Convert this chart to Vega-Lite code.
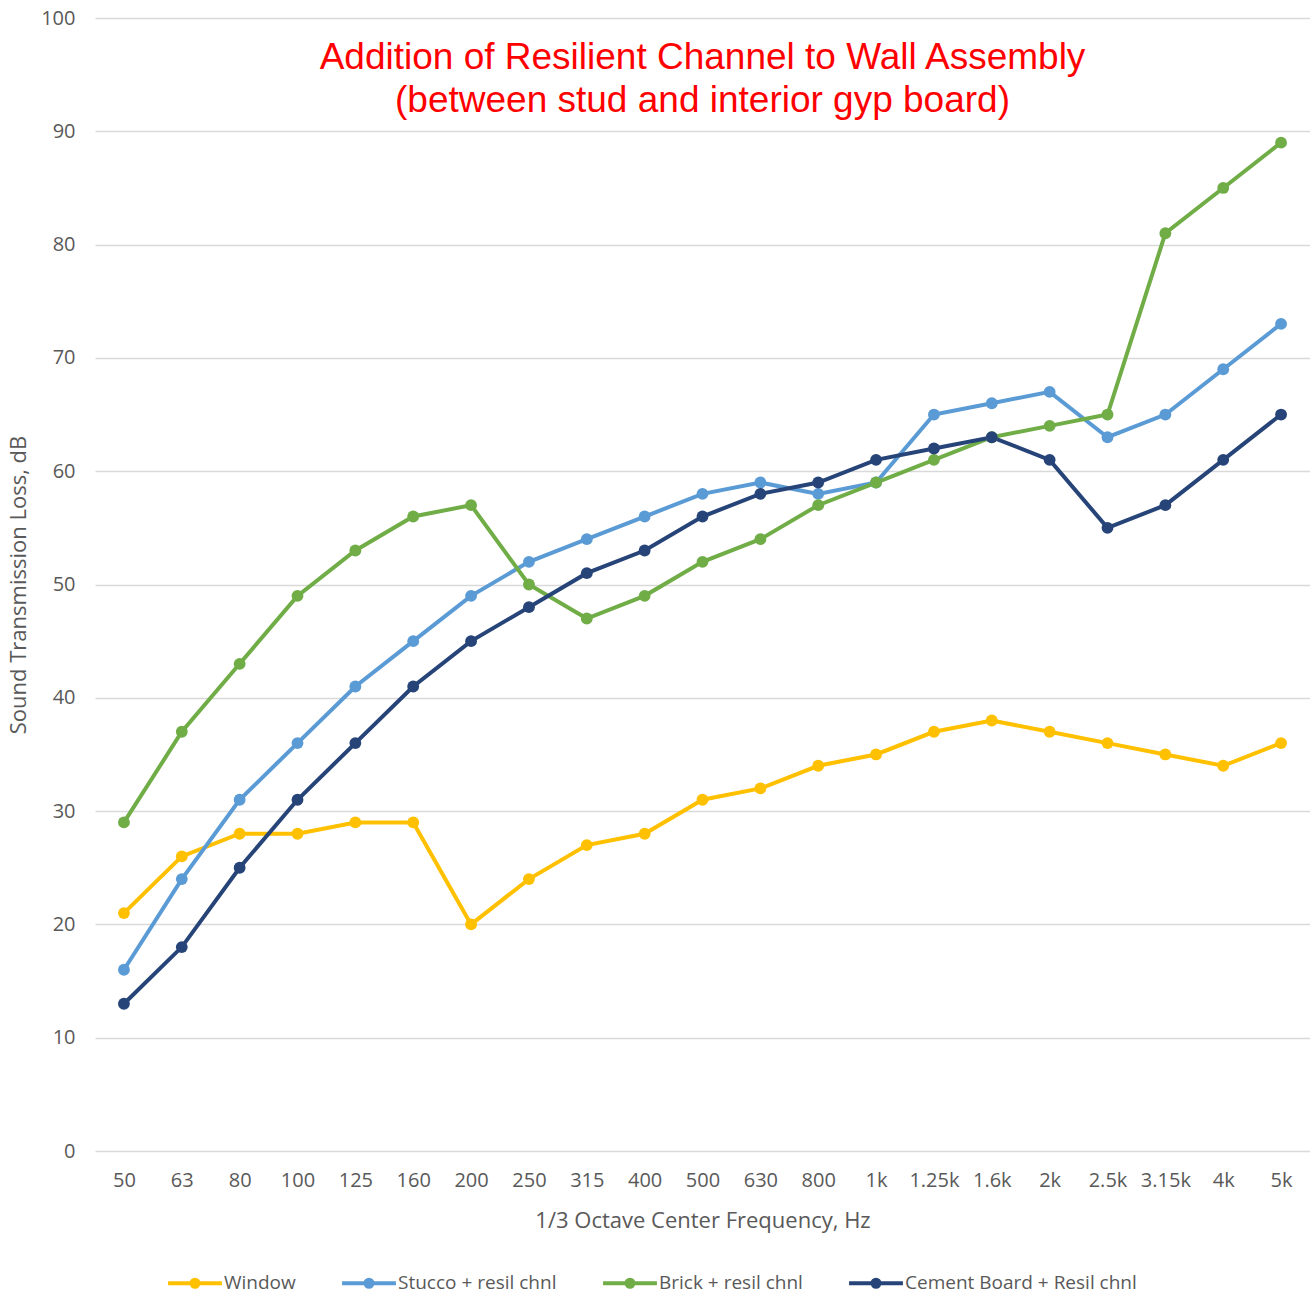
{
  "$schema": "https://vega.github.io/schema/vega-lite/v6.json",
  "autosize": "none",
  "width": 1215,
  "height": 1133,
  "padding": {"left": 95, "top": 18, "right": 0, "bottom": 144},
  "background": "white",
  "config": {
    "view": {"stroke": null},
    "font": "Open Sans"
  },
  "title": {
    "text": ["Addition of Resilient Channel to Wall Assembly", "(between stud and interior gyp board)"],
    "font": "Liberation Sans",
    "fontSize": 37,
    "fontWeight": "normal",
    "color": "#FF0000",
    "lineHeight": 43,
    "anchor": "middle",
    "orient": "top",
    "baseline": "top",
    "offset": 0,
    "dy": 112
  },
  "data": {
    "values": [
      {"freq": "50", "series": "Window", "tl": 21},
      {"freq": "63", "series": "Window", "tl": 26},
      {"freq": "80", "series": "Window", "tl": 28},
      {"freq": "100", "series": "Window", "tl": 28},
      {"freq": "125", "series": "Window", "tl": 29},
      {"freq": "160", "series": "Window", "tl": 29},
      {"freq": "200", "series": "Window", "tl": 20},
      {"freq": "250", "series": "Window", "tl": 24},
      {"freq": "315", "series": "Window", "tl": 27},
      {"freq": "400", "series": "Window", "tl": 28},
      {"freq": "500", "series": "Window", "tl": 31},
      {"freq": "630", "series": "Window", "tl": 32},
      {"freq": "800", "series": "Window", "tl": 34},
      {"freq": "1k", "series": "Window", "tl": 35},
      {"freq": "1.25k", "series": "Window", "tl": 37},
      {"freq": "1.6k", "series": "Window", "tl": 38},
      {"freq": "2k", "series": "Window", "tl": 37},
      {"freq": "2.5k", "series": "Window", "tl": 36},
      {"freq": "3.15k", "series": "Window", "tl": 35},
      {"freq": "4k", "series": "Window", "tl": 34},
      {"freq": "5k", "series": "Window", "tl": 36},
      {"freq": "50", "series": "Stucco + resil chnl", "tl": 16},
      {"freq": "63", "series": "Stucco + resil chnl", "tl": 24},
      {"freq": "80", "series": "Stucco + resil chnl", "tl": 31},
      {"freq": "100", "series": "Stucco + resil chnl", "tl": 36},
      {"freq": "125", "series": "Stucco + resil chnl", "tl": 41},
      {"freq": "160", "series": "Stucco + resil chnl", "tl": 45},
      {"freq": "200", "series": "Stucco + resil chnl", "tl": 49},
      {"freq": "250", "series": "Stucco + resil chnl", "tl": 52},
      {"freq": "315", "series": "Stucco + resil chnl", "tl": 54},
      {"freq": "400", "series": "Stucco + resil chnl", "tl": 56},
      {"freq": "500", "series": "Stucco + resil chnl", "tl": 58},
      {"freq": "630", "series": "Stucco + resil chnl", "tl": 59},
      {"freq": "800", "series": "Stucco + resil chnl", "tl": 58},
      {"freq": "1k", "series": "Stucco + resil chnl", "tl": 59},
      {"freq": "1.25k", "series": "Stucco + resil chnl", "tl": 65},
      {"freq": "1.6k", "series": "Stucco + resil chnl", "tl": 66},
      {"freq": "2k", "series": "Stucco + resil chnl", "tl": 67},
      {"freq": "2.5k", "series": "Stucco + resil chnl", "tl": 63},
      {"freq": "3.15k", "series": "Stucco + resil chnl", "tl": 65},
      {"freq": "4k", "series": "Stucco + resil chnl", "tl": 69},
      {"freq": "5k", "series": "Stucco + resil chnl", "tl": 73},
      {"freq": "50", "series": "Brick + resil chnl", "tl": 29},
      {"freq": "63", "series": "Brick + resil chnl", "tl": 37},
      {"freq": "80", "series": "Brick + resil chnl", "tl": 43},
      {"freq": "100", "series": "Brick + resil chnl", "tl": 49},
      {"freq": "125", "series": "Brick + resil chnl", "tl": 53},
      {"freq": "160", "series": "Brick + resil chnl", "tl": 56},
      {"freq": "200", "series": "Brick + resil chnl", "tl": 57},
      {"freq": "250", "series": "Brick + resil chnl", "tl": 50},
      {"freq": "315", "series": "Brick + resil chnl", "tl": 47},
      {"freq": "400", "series": "Brick + resil chnl", "tl": 49},
      {"freq": "500", "series": "Brick + resil chnl", "tl": 52},
      {"freq": "630", "series": "Brick + resil chnl", "tl": 54},
      {"freq": "800", "series": "Brick + resil chnl", "tl": 57},
      {"freq": "1k", "series": "Brick + resil chnl", "tl": 59},
      {"freq": "1.25k", "series": "Brick + resil chnl", "tl": 61},
      {"freq": "1.6k", "series": "Brick + resil chnl", "tl": 63},
      {"freq": "2k", "series": "Brick + resil chnl", "tl": 64},
      {"freq": "2.5k", "series": "Brick + resil chnl", "tl": 65},
      {"freq": "3.15k", "series": "Brick + resil chnl", "tl": 81},
      {"freq": "4k", "series": "Brick + resil chnl", "tl": 85},
      {"freq": "5k", "series": "Brick + resil chnl", "tl": 89},
      {"freq": "50", "series": "Cement Board + Resil chnl", "tl": 13},
      {"freq": "63", "series": "Cement Board + Resil chnl", "tl": 18},
      {"freq": "80", "series": "Cement Board + Resil chnl", "tl": 25},
      {"freq": "100", "series": "Cement Board + Resil chnl", "tl": 31},
      {"freq": "125", "series": "Cement Board + Resil chnl", "tl": 36},
      {"freq": "160", "series": "Cement Board + Resil chnl", "tl": 41},
      {"freq": "200", "series": "Cement Board + Resil chnl", "tl": 45},
      {"freq": "250", "series": "Cement Board + Resil chnl", "tl": 48},
      {"freq": "315", "series": "Cement Board + Resil chnl", "tl": 51},
      {"freq": "400", "series": "Cement Board + Resil chnl", "tl": 53},
      {"freq": "500", "series": "Cement Board + Resil chnl", "tl": 56},
      {"freq": "630", "series": "Cement Board + Resil chnl", "tl": 58},
      {"freq": "800", "series": "Cement Board + Resil chnl", "tl": 59},
      {"freq": "1k", "series": "Cement Board + Resil chnl", "tl": 61},
      {"freq": "1.25k", "series": "Cement Board + Resil chnl", "tl": 62},
      {"freq": "1.6k", "series": "Cement Board + Resil chnl", "tl": 63},
      {"freq": "2k", "series": "Cement Board + Resil chnl", "tl": 61},
      {"freq": "2.5k", "series": "Cement Board + Resil chnl", "tl": 55},
      {"freq": "3.15k", "series": "Cement Board + Resil chnl", "tl": 57},
      {"freq": "4k", "series": "Cement Board + Resil chnl", "tl": 61},
      {"freq": "5k", "series": "Cement Board + Resil chnl", "tl": 65}
    ]
  },
  "encoding": {
    "x": {
      "field": "freq",
      "type": "ordinal",
      "sort": null,
      "scale": {"type": "point", "padding": 0.5},
      "axis": {
        "title": "1/3 Octave Center Frequency, Hz",
        "titleFont": "Open Sans",
        "titleFontSize": 22,
        "titleFontWeight": "normal",
        "titleColor": "#595959",
        "titlePadding": 20,
        "labelAngle": 0,
        "labelFont": "Open Sans",
        "labelFontSize": 20,
        "labelColor": "#595959",
        "labelPadding": 19,
        "ticks": false,
        "domain": false,
        "grid": false
      }
    },
    "y": {
      "field": "tl",
      "type": "quantitative",
      "scale": {"domain": [0, 100], "nice": false, "zero": true},
      "axis": {
        "values": [0, 10, 20, 30, 40, 50, 60, 70, 80, 90, 100],
        "title": "Sound Transmission Loss, dB",
        "titleFont": "Open Sans",
        "titleFontSize": 22,
        "titleFontWeight": "normal",
        "titleColor": "#595959",
        "titlePadding": 10,
        "labelFont": "Open Sans",
        "labelFontSize": 20,
        "labelColor": "#595959",
        "labelPadding": 20,
        "ticks": false,
        "domain": false,
        "grid": true,
        "gridColor": "#d9d9d9",
        "gridWidth": 1.5
      }
    },
    "color": {
      "field": "series",
      "type": "nominal",
      "scale": {
        "domain": ["Window", "Stucco + resil chnl", "Brick + resil chnl", "Cement Board + Resil chnl"],
        "range": ["#FFC000", "#5B9BD5", "#70AD47", "#264478"]
      },
      "legend": {
        "title": null,
        "orient": "none",
        "direction": "horizontal",
        "legendX": 71,
        "legendY": 1236,
        "symbolType": "M-1,0L1,0M-0.13,0A0.13,0.13 0 1,1 0.13,0A0.13,0.13 0 1,1 -0.13,0",
        "symbolSize": 2900,
        "symbolStrokeWidth": 4,
        "labelFont": "Open Sans",
        "labelFontSize": 19,
        "labelColor": "#595959",
        "labelOffset": 0,
        "labelLimit": 400,
        "columnPadding": 38
      }
    }
  },
  "layer": [
    {"mark": {"type": "line", "strokeWidth": 4}},
    {"mark": {"type": "point", "filled": true, "size": 140, "opacity": 1}}
  ]
}
